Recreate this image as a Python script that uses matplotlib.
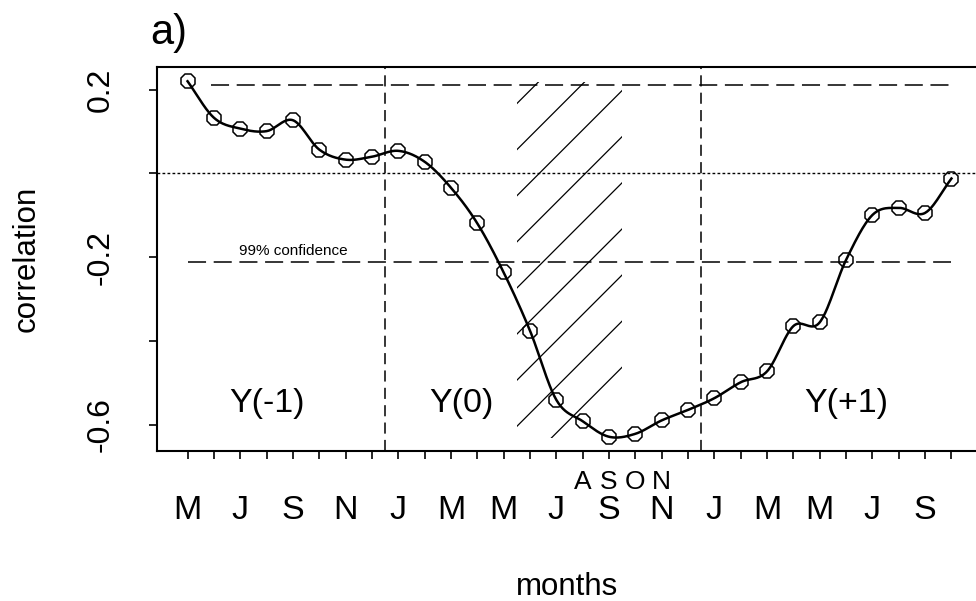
import numpy as np
import matplotlib
matplotlib.use("Agg")
import matplotlib.pyplot as plt
from matplotlib.patches import Rectangle

plt.rcParams['font.family'] = ['Liberation Sans', 'DejaVu Sans']
plt.rcParams['lines.scale_dashes'] = False

# ---------------- data ----------------
month_index = list(range(30))                     # May Y(-1) ... Oct Y(+1)
correlation = [0.220, 0.133, 0.107, 0.101, 0.127, 0.057, 0.033, 0.040, 0.054, 0.028,
               -0.034, -0.119, -0.236, -0.375, -0.540, -0.591, -0.628, -0.621, -0.589, -0.564,
               -0.536, -0.498, -0.472, -0.364, -0.355, -0.206, -0.099, -0.082, -0.094, -0.012]
major_tick_pos = list(range(0, 30, 2))
major_tick_labels = ['M', 'J', 'S', 'N', 'J', 'M', 'M', 'J', 'S', 'N', 'J', 'M', 'M', 'J', 'S']
season_tick_pos = [15, 16, 17, 18]
season_tick_labels = ['A', 'S', 'O', 'N']
ytick_vals = [0.2, 0.0, -0.2, -0.4, -0.6]
ytick_labels = ['0.2', '', '-0.2', '', '-0.6']
confidence_levels = [0.21, -0.21]
confidence_x_start = [0.9, 0.0]
confidence_x_end = [29.0, 29.0]
year_breaks = [7.5, 19.5]
year_labels = ['Y(-1)', 'Y(0)', 'Y(+1)']
year_label_x = [3, 10.4, 25]
year_label_y = -0.549
hatch_x = [12.5, 16.5]
hatch_y = [-0.63, 0.218]
hatch_first = 0.1667
hatch_step = 0.110

# ---------------- figure ----------------
fig = plt.figure(figsize=(9.76, 6.01), dpi=100)
L, R, B, T = 157 / 976, 982 / 976, 1 - 451 / 601, 1 - 67 / 601
ax = fig.add_axes([L, B, R - L, T - B])
ax.set_xlim(-1.16, 30.16)
ax.set_ylim(-0.662, 0.254)

for s in ['left', 'bottom', 'top']:
    ax.spines[s].set_linewidth(1.5)
ax.spines['right'].set_visible(False)

# smooth curve through points (cardinal spline, Hermite segments)
x = np.array(month_index, dtype=float)
y = np.array(correlation, dtype=float)
m = np.empty_like(y)
m[1:-1] = (y[2:] - y[:-2]) / 2
m[0] = y[1] - y[0]
m[-1] = y[-1] - y[-2]
xs, ys = [], []
t = np.linspace(0, 1, 25)
h00 = 2 * t**3 - 3 * t**2 + 1
h10 = t**3 - 2 * t**2 + t
h01 = -2 * t**3 + 3 * t**2
h11 = t**3 - t**2
for i in range(len(x) - 1):
    xs.append(x[i] + t)
    ys.append(h00 * y[i] + h10 * m[i] + h01 * y[i + 1] + h11 * m[i + 1])
ax.plot(np.concatenate(xs), np.concatenate(ys), color='black', lw=1.8, zorder=3)
ax.plot(x, y, linestyle='none', marker='8', markersize=10.5, markerfacecolor='none',
        markeredgecolor='black', markeredgewidth=1.1, zorder=4)

# reference lines
ax.axhline(0, color='black', lw=1.0, linestyle=(0, (2.0, 1.6)), zorder=1)
for yy, x0, x1 in zip(confidence_levels, confidence_x_start, confidence_x_end):
    ax.plot([x0, x1], [yy, yy], color='black', lw=1.1,
            linestyle=(0, (13, 5.5)), zorder=1)
for xb in year_breaks:
    ax.axvline(xb, color='black', lw=1.1, linestyle=(0, (8, 4.5)), zorder=1)

# hatched region
fig.canvas.draw()
p0 = ax.transData.transform((0, 0))
p1 = ax.transData.transform((1, 1))
k = (p1[0] - p0[0]) / (p1[1] - p0[1])
clip = Rectangle((hatch_x[0], hatch_y[0]), hatch_x[1] - hatch_x[0], hatch_y[1] - hatch_y[0],
                 transform=ax.transData, fill=False, edgecolor='none')
ax.add_patch(clip)
width = hatch_x[1] - hatch_x[0]
b = hatch_first
while b + k * width < hatch_y[1] + hatch_step:
    b += hatch_step
while b > hatch_y[0] - hatch_step:
    ln, = ax.plot([hatch_x[0], hatch_x[1]], [b, b + k * width], color='black', lw=0.9, zorder=2)
    ln.set_clip_path(clip)
    b -= hatch_step

# texts
for lab, xx in zip(year_labels, year_label_x):
    ax.text(xx, year_label_y, lab, fontsize=24.5, ha='center', va='center')
ax.text(4, -0.1945, '99% confidence', fontsize=11, ha='center', va='baseline')

# axes ticks
ax.set_xticks(month_index, minor=True)
ax.set_xticks(major_tick_pos)
ax.set_xticklabels(major_tick_labels, fontsize=24.5)
ax.tick_params(axis='x', which='both', length=6, width=1.2, pad=25.5)
for xx, lab in zip(season_tick_pos, season_tick_labels):
    ax.annotate(lab, xy=(xx, 0), xycoords=('data', 'axes fraction'), xytext=(0, -14),
                textcoords='offset points', ha='center', va='top', fontsize=19)
ax.set_yticks(ytick_vals)
ax.set_yticklabels(ytick_labels, fontsize=23, rotation=90, va='center')
ax.tick_params(axis='y', length=6, width=1.2, pad=24)

ax.set_xlabel('months', fontsize=22.5, labelpad=0)
ax.xaxis.set_label_coords((567.5 - 157) / (982 - 157), -(587 - 451) / (451 - 67))
ax.xaxis.label.set_va('center')
ax.set_ylabel('correlation', fontsize=22.5)
ax.yaxis.set_label_coords(-(157 - 27) / (982 - 157), 0.5)
ax.yaxis.label.set_va('center')

fig.text(150 / 976, 1 - 44 / 601, 'a)', fontsize=30, ha='left', va='baseline')

fig.savefig('out.png', dpi=100)
